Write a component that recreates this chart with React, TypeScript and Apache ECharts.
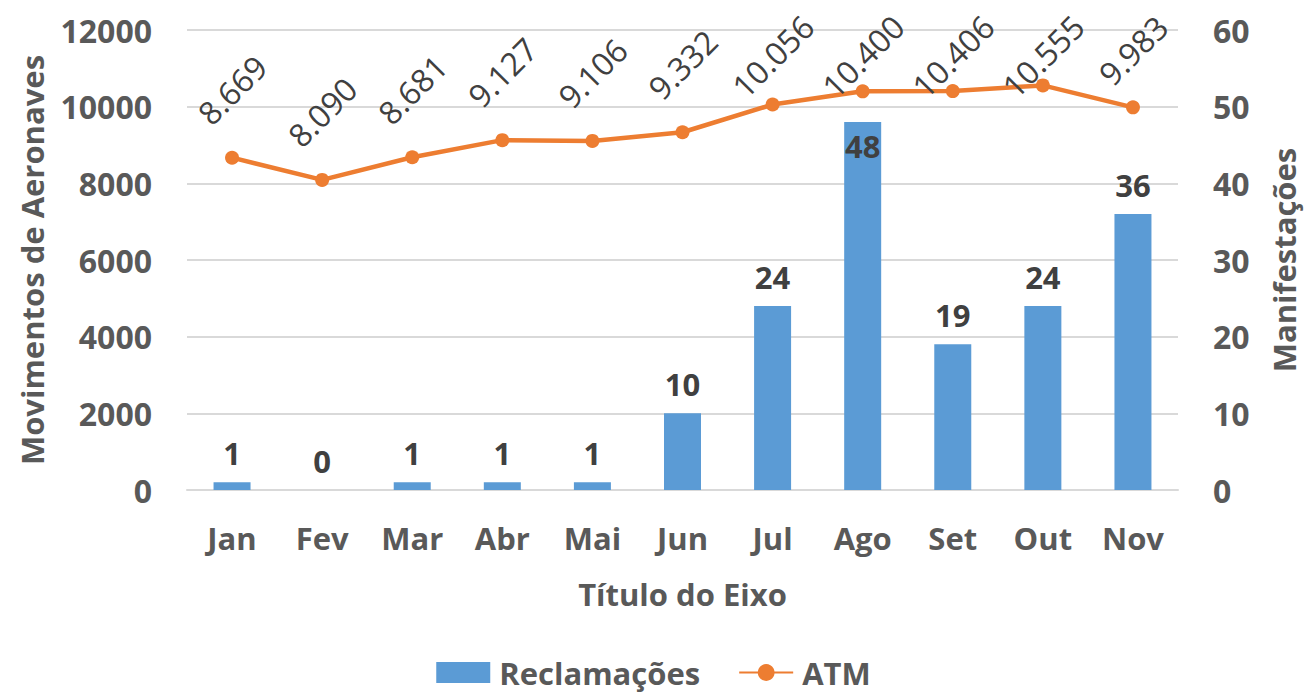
import React, { useEffect, useRef } from "react";
import * as echarts from "echarts";

const categories = ["Jan", "Fev", "Mar", "Abr", "Mai", "Jun", "Jul", "Ago", "Set", "Out", "Nov"];
const reclamacoes = [1, 0, 1, 1, 1, 10, 24, 48, 19, 24, 36];
const atm = [8669, 8090, 8681, 9127, 9106, 9332, 10056, 10400, 10406, 10555, 9983];
const leftTicks = { min: 0, max: 12000, interval: 2000 };
const rightTicks = { min: 0, max: 60, interval: 10 };

const FONT = "'Open Sans', 'DejaVu Sans', sans-serif";
const GRID = { left: 187, right: 122, top: 30, bottom: 205 };
const H = 695;
const SYMBOL = 14;

const fmt = (v: number) => String(v).replace(/\B(?=(\d{3})+(?!\d))/g, ".");

export default function App() {
  const ref = useRef<HTMLDivElement>(null);
  useEffect(() => {
    if (!ref.current) return;
    const chart = echarts.init(ref.current, undefined, { renderer: "svg" });
    const plotH = H - GRID.top - GRID.bottom;
    const lineData = atm.map((v) => {
      const py = GRID.top + (1 - (v - leftTicks.min) / (leftTicks.max - leftTicks.min)) * plotH;
      const minCenter = fmt(v).length >= 6 ? 56 : 50;
      const lift = Math.min(68, py - minCenter);
      return { value: v, label: { distance: lift - SYMBOL / 2 } };
    });
    const barData = reclamacoes.map((v, i) =>
      i === 7
        ? { value: v, label: { position: "insideTop", distance: 8 } }
        : { value: v }
    );
    const tickStyle = { fontFamily: FONT, fontSize: 32, fontWeight: "bold", color: "#595959" };
    chart.setOption({
      animation: false,
      textStyle: { fontFamily: FONT },
      grid: GRID,
      legend: {
        top: 652,
        left: "center",
        itemWidth: 54,
        itemHeight: 21,
        itemGap: 38,
        textStyle: {
          fontFamily: FONT,
          fontSize: 31,
          lineHeight: 31,
          fontWeight: "bold",
          color: "#595959",
          padding: [0, 0, 0, 4],
        },
        data: [
          { name: "Reclamações", icon: "rect" },
          { name: "ATM" },
        ],
      },
      xAxis: {
        type: "category",
        data: categories,
        name: "Título do Eixo",
        nameLocation: "middle",
        nameGap: 88,
        nameTextStyle: { fontFamily: FONT, fontSize: 31, fontWeight: "bold", color: "#595959" },
        axisLine: { lineStyle: { color: "#d9d9d9", width: 2 } },
        axisTick: { show: false },
        axisLabel: { ...tickStyle, fontSize: 31, margin: 32 },
      },
      yAxis: [
        {
          type: "value",
          ...leftTicks,
          name: "Movimentos de Aeronaves",
          nameLocation: "middle",
          nameGap: 140,
          nameTextStyle: { fontFamily: FONT, fontSize: 31, fontWeight: "bold", color: "#595959" },
          axisLine: { show: false },
          axisTick: { show: false },
          axisLabel: { ...tickStyle, margin: 35, formatter: (v: number) => String(v) },
          splitLine: { lineStyle: { color: "#d9d9d9", width: 2 } },
        },
        {
          type: "value",
          ...rightTicks,
          name: "Manifestações",
          nameLocation: "middle",
          nameGap: 90,
          nameRotate: 90,
          nameTextStyle: { fontFamily: FONT, fontSize: 31, fontWeight: "bold", color: "#595959" },
          axisLine: { show: false },
          axisTick: { show: false },
          axisLabel: { ...tickStyle, margin: 35, formatter: (v: number) => String(v) },
          splitLine: { show: false },
        },
      ],
      series: [
        {
          name: "Reclamações",
          type: "bar",
          yAxisIndex: 1,
          data: barData,
          barWidth: 37,
          itemStyle: { color: "#5B9BD5" },
          label: {
            show: true,
            position: "top",
            distance: 14,
            fontFamily: FONT,
            fontSize: 31,
            fontWeight: "bold",
            color: "#404040",
          },
          z: 1,
        },
        {
          name: "ATM",
          type: "line",
          yAxisIndex: 0,
          data: lineData,
          symbol: "circle",
          symbolSize: SYMBOL,
          itemStyle: { color: "#ED7D31" },
          lineStyle: { color: "#ED7D31", width: 4.5 },
          label: {
            show: true,
            position: "top",
            rotate: 45,
            align: "center",
            verticalAlign: "middle",
            formatter: (p: any) => fmt(p.value),
            fontFamily: FONT,
            fontSize: 32,
            color: "#404040",
          },
          z: 3,
        },
      ],
    });
    return () => chart.dispose();
  }, []);
  return (
    <div
      ref={ref}
      style={{ position: "absolute", left: 0, top: 0, width: 1307, height: 695, background: "#fff" }}
    />
  );
}
